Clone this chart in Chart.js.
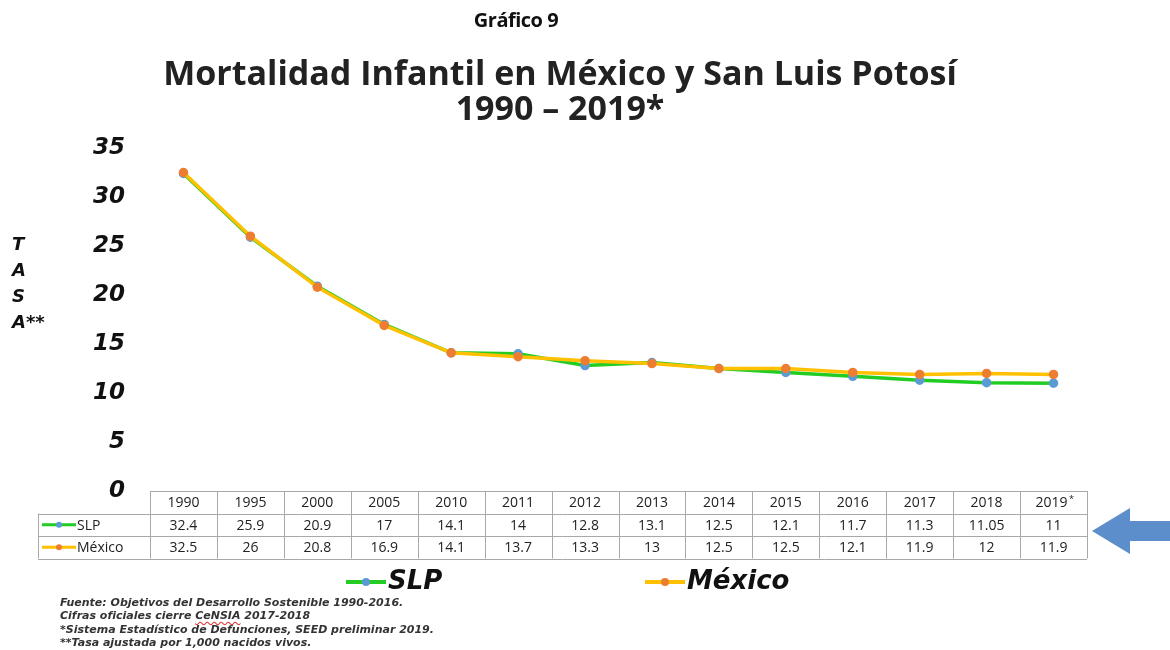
<!DOCTYPE html>
<html lang="es">
<head>
    <meta charset="UTF-8">
    <title>Mortalidad Infantil en México y San Luis Potosí</title>
    <script src="https://cdn.jsdelivr.net/npm/chart.js@4.4.0/dist/chart.umd.min.js"></script>
    <style>
        body {
            margin: 0;
            background: #fff;
            font-family: "Open Sans", sans-serif;
        }
        #wrap {
            position: relative;
            width: 1170px;
            height: 650px;
            overflow: hidden;
        }
        #chart {
            position: absolute;
            left: 0;
            top: 0;
        }
        .abs {
            position: absolute;
            white-space: nowrap;
        }
        #grafico {
            left: 0; width: 1032px; top: 6px;
            text-align: center;
            font-size: 20px;
            font-weight: bold;
            letter-spacing: -0.5px;
            color: #111;
        }
        #titulo {
            left: 0; width: 1120px; top: 55px;
            text-align: center;
            font-size: 34px;
            font-weight: bold;
            line-height: 35px;
            color: #222;
        }
        #ytitle {
            left: 12px; top: 231px;
            font-family: "DejaVu Sans", sans-serif;
            font-weight: bold;
            font-style: italic;
            font-size: 18px;
            line-height: 26px;
            color: #111;
        }
        .leg {
            top: 565px;
            font-family: "DejaVu Sans", sans-serif;
            font-weight: bold;
            font-style: italic;
            font-size: 26px;
            color: #111;
        }
        .leg i {
            display: inline-block;
            position: relative;
            width: 40px;
            height: 4px;
            vertical-align: middle;
            margin-right: 2px;
        }
        .leg i b {
            position: absolute;
            left: 16px; top: -2px;
            width: 8px; height: 8px;
            border-radius: 50%;
        }
        #notas {
            left: 60px; top: 596px;
            font-family: "DejaVu Sans", sans-serif;
            font-weight: bold;
            font-style: italic;
            font-size: 11px;
            line-height: 13.4px;
            color: #333;
        }
        #notas u {
            text-decoration: underline wavy #e03030;
        }
    </style>
</head>
<body>
<div id="wrap">
    <canvas id="chart" width="1170" height="650"></canvas>

    <div id="grafico" class="abs">Gráfico 9</div>
    <div id="titulo" class="abs">Mortalidad Infantil en México y San Luis Potosí<br>1990 – 2019*</div>
    <div id="ytitle" class="abs">T<br>A<br>S<br>A**</div>

    <div class="abs leg" style="left:346px;"><i style="background:#22cc22;"><b style="background:#5b9bd5;"></b></i>SLP</div>
    <div class="abs leg" style="left:645px;"><i style="background:#ffc000;"><b style="background:#ed7d31;"></b></i>México</div>

    <div id="notas" class="abs">
        Fuente: Objetivos del Desarrollo Sostenible 1990-2016.<br>
        Cifras oficiales cierre <u>CeNSIA</u> 2017-2018<br>
        *Sistema Estadístico de Defunciones, SEED preliminar 2019.<br>
        **Tasa ajustada por 1,000 nacidos vivos.
    </div>

    <svg class="abs" style="left:1090px;top:506px;" width="80" height="50">
        <polygon points="2,25 40,2 40,15 80,15 80,35 40,35 40,48" fill="#5b8ecb"/>
    </svg>
</div>

<script>
    // datos del gráfico
    const anios = ['1990', '1995', '2000', '2005', '2010', '2011', '2012', '2013', '2014', '2015', '2016', '2017', '2018', '2019'];
    const aniosTabla = ['1990', '1995', '2000', '2005', '2010', '2011', '2012', '2013', '2014', '2015', '2016', '2017', '2018', '2019*'];
    const slp = [32.4, 25.9, 20.9, 17, 14.1, 14, 12.8, 13.1, 12.5, 12.1, 11.7, 11.3, 11.05, 11];
    const mexico = [32.5, 26, 20.8, 16.9, 14.1, 13.7, 13.3, 13, 12.5, 12.5, 12.1, 11.9, 12, 11.9];
    const slpTabla = ['32.4', '25.9', '20.9', '17', '14.1', '14', '12.8', '13.1', '12.5', '12.1', '11.7', '11.3', '11.05', '11'];
    const mexicoTabla = ['32.5', '26', '20.8', '16.9', '14.1', '13.7', '13.3', '13', '12.5', '12.5', '12.1', '11.9', '12', '11.9'];
    const yTicks = [0, 5, 10, 15, 20, 25, 30, 35];

    const verde = '#22cc22', azul = '#5b9bd5', amarillo = '#ffc000', naranja = '#ed7d31';

    // tabla de datos debajo del área del gráfico
    const tablaPlugin = {
        id: 'tabla',
        afterDraw(chart) {
            const ctx = chart.ctx;
            const x = chart.scales.x;
            const area = chart.chartArea;
            const colW = (area.right - area.left) / anios.length;
            const rowH = 22.5;
            const top = area.bottom;
            const labelLeft = 38;

            ctx.save();
            ctx.strokeStyle = '#a8a8a8';
            ctx.lineWidth = 1;

            // líneas horizontales
            const hline = (y, x0) => {
                ctx.beginPath();
                ctx.moveTo(x0, Math.round(y) + 0.5);
                ctx.lineTo(area.right, Math.round(y) + 0.5);
                ctx.stroke();
            };
            hline(top, area.left);
            hline(top + rowH, labelLeft);
            hline(top + rowH * 2, labelLeft);
            hline(top + rowH * 3, labelLeft);

            // líneas verticales
            const vline = (xx, y0, y1) => {
                ctx.beginPath();
                ctx.moveTo(Math.round(xx) + 0.5, y0);
                ctx.lineTo(Math.round(xx) + 0.5, y1);
                ctx.stroke();
            };
            vline(labelLeft, top + rowH, top + rowH * 3);
            for (let i = 0; i <= anios.length; i++) {
                vline(area.left + i * colW, top, top + rowH * 3);
            }

            ctx.fillStyle = '#222';
            ctx.font = '14px "Open Sans"';
            ctx.textAlign = 'center';
            ctx.textBaseline = 'middle';
            anios.forEach((a, i) => {
                const cx = x.getPixelForValue(i);
                if (aniosTabla[i].endsWith('*')) {
                    ctx.fillText(a, cx - 2, top + rowH / 2 + 1);
                    ctx.font = '9px "Open Sans"';
                    ctx.fillText('*', cx + 18, top + rowH / 2 - 3);
                    ctx.font = '14px "Open Sans"';
                } else {
                    ctx.fillText(aniosTabla[i], cx, top + rowH / 2 + 1);
                }
                ctx.fillText(slpTabla[i], cx, top + rowH * 1.5 + 1);
                ctx.fillText(mexicoTabla[i], cx, top + rowH * 2.5 + 1);
            });

            // muestras de serie en la tabla
            const muestra = (y, cLinea, cPunto, texto) => {
                ctx.strokeStyle = cLinea;
                ctx.lineWidth = 3;
                ctx.beginPath();
                ctx.moveTo(labelLeft + 4, y);
                ctx.lineTo(labelLeft + 38, y);
                ctx.stroke();
                ctx.fillStyle = cPunto;
                ctx.beginPath();
                ctx.arc(labelLeft + 21, y, 3, 0, Math.PI * 2);
                ctx.fill();
                ctx.fillStyle = '#222';
                ctx.textAlign = 'left';
                ctx.fillText(texto, labelLeft + 39, y + 1);
            };
            muestra(top + rowH * 1.5, verde, azul, 'SLP');
            muestra(top + rowH * 2.5, amarillo, naranja, 'México');
            ctx.restore();
        }
    };

    new Chart(document.getElementById('chart'), {
        type: 'line',
        data: {
            labels: anios,
            datasets: [
                {
                    label: 'SLP',
                    data: slp,
                    borderColor: verde,
                    backgroundColor: azul,
                    pointBackgroundColor: azul,
                    pointBorderColor: azul,
                    borderWidth: 3.5,
                    pointRadius: 3,
                    tension: 0,
                    order: 2
                },
                {
                    label: 'México',
                    data: mexico,
                    borderColor: amarillo,
                    backgroundColor: naranja,
                    pointBackgroundColor: naranja,
                    pointBorderColor: naranja,
                    borderWidth: 3.5,
                    pointRadius: 3,
                    tension: 0,
                    order: 1
                }
            ]
        },
        options: {
            responsive: false,
            animation: false,
            layout: {
                padding: { left: 0, top: 148, right: 83, bottom: 159 }
            },
            plugins: {
                legend: { display: false },
                tooltip: { enabled: false }
            },
            scales: {
                x: {
                    display: false,
                    offset: true
                },
                y: {
                    min: 0,
                    max: 35,
                    afterFit: s => { s.width = 150; },
                    afterBuildTicks: s => { s.ticks = yTicks.map(v => ({ value: v })); },
                    grid: { display: false },
                    border: { display: false },
                    ticks: {
                        padding: 17,
                        color: '#111',
                        font: { family: '"DejaVu Sans"', size: 23, weight: 'bold', style: 'italic' }
                    }
                }
            }
        },
        plugins: [tablaPlugin]
    });
</script>
</body>
</html>
